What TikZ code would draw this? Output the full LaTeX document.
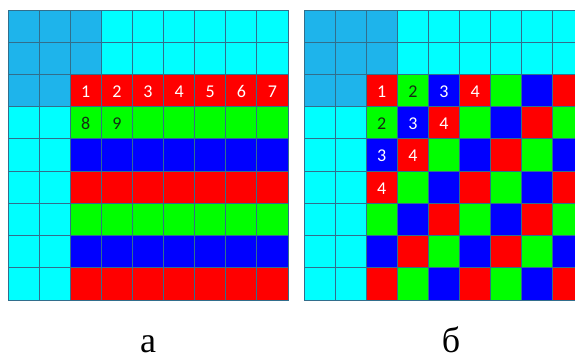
\documentclass[tikz,border=0pt]{standalone}
\usepackage{fontspec}
\setmainfont{Liberation Serif}
\newfontfamily\digitfont{Carlito}
\definecolor{skyb}{RGB}{30,180,235}
\definecolor{cyn}{RGB}{0,255,255}
\definecolor{rd}{RGB}{255,0,0}
\definecolor{gr}{RGB}{0,255,0}
\definecolor{bl}{RGB}{0,0,255}
\definecolor{gridc}{RGB}{50,110,140}
\definecolor{darktxt}{RGB}{20,45,20}
\begin{document}
\begin{tikzpicture}[x=1pt,y=-1pt,
  cell/.style={draw=gridc,line width=0.8pt},
  num/.style={font=\digitfont\fontsize{18}{18}\selectfont,text=white,inner sep=0pt},
  numd/.style={num,text=darktxt},
  captxt/.style={font=\fontsize{36}{36}\selectfont,anchor=base,inner sep=0pt}]
\useasboundingbox (0,0) rectangle (575,358);
\fill[white] (0,0) rectangle (575,358);
\def\cw{31.111}\def\ch{32.222}
% ---- grid a ----
\foreach \r in {0,...,8}{\foreach \c in {0,...,8}{
  \ifnum\r<2
    \ifnum\c<3 \gdef\cc{skyb}\else\gdef\cc{cyn}\fi
  \else
    \ifnum\c<2
      \ifnum\r=2 \gdef\cc{skyb}\else\gdef\cc{cyn}\fi
    \else
      \pgfmathtruncatemacro\k{mod(\r-2,3)}
      \ifcase\k \gdef\cc{rd}\or\gdef\cc{gr}\or\gdef\cc{bl}\fi
    \fi
  \fi
  \path[cell,fill=\cc] ({8+\c*\cw},{10+\r*\ch}) rectangle ({8+(\c+1)*\cw},{10+(\r+1)*\ch});
}}
\foreach \n in {1,...,7}{
  \node[num] (a\n) at ({8+(\n+1.5)*\cw},{11+2.5*\ch}) {\n};
}
\node[numd] (a8) at ({8+2.5*\cw},{11+3.5*\ch}) {8};
\node[numd] (a9) at ({8+3.5*\cw},{11+3.5*\ch}) {9};
% ---- grid b ----
\begin{scope}
\clip (0,0) rectangle (575,358);
\foreach \r in {0,...,8}{\foreach \c in {0,...,8}{
  \ifnum\r<2
    \ifnum\c<3 \gdef\cc{skyb}\else\gdef\cc{cyn}\fi
  \else
    \ifnum\c<2
      \ifnum\r=2 \gdef\cc{skyb}\else\gdef\cc{cyn}\fi
    \else
      \pgfmathtruncatemacro\k{mod(\r+\c-4,3)}
      \ifcase\k \gdef\cc{rd}\or\gdef\cc{gr}\or\gdef\cc{bl}\fi
    \fi
  \fi
  \path[cell,fill=\cc] ({304+\c*\cw},{10+\r*\ch}) rectangle ({304+(\c+1)*\cw},{10+(\r+1)*\ch});
}}
\end{scope}
\node[num]  (b11) at ({304+2.5*\cw},{11+2.5*\ch}) {1};
\node[numd] (b12) at ({304+3.5*\cw},{11+2.5*\ch}) {2};
\node[num]  (b13) at ({304+4.5*\cw},{11+2.5*\ch}) {3};
\node[num]  (b14) at ({304+5.5*\cw},{11+2.5*\ch}) {4};
\node[numd] (b21) at ({304+2.5*\cw},{11+3.5*\ch}) {2};
\node[num]  (b22) at ({304+3.5*\cw},{11+3.5*\ch}) {3};
\node[num]  (b23) at ({304+4.5*\cw},{11+3.5*\ch}) {4};
\node[num]  (b31) at ({304+2.5*\cw},{11+4.5*\ch}) {3};
\node[num]  (b32) at ({304+3.5*\cw},{11+4.5*\ch}) {4};
\node[num]  (b41) at ({304+2.5*\cw},{11+5.5*\ch}) {4};
% ---- captions ----
\node[captxt] (capa) at (148,352) {а};
\node[captxt] (capb) at (451,352) {б};
\end{tikzpicture}
\end{document}
